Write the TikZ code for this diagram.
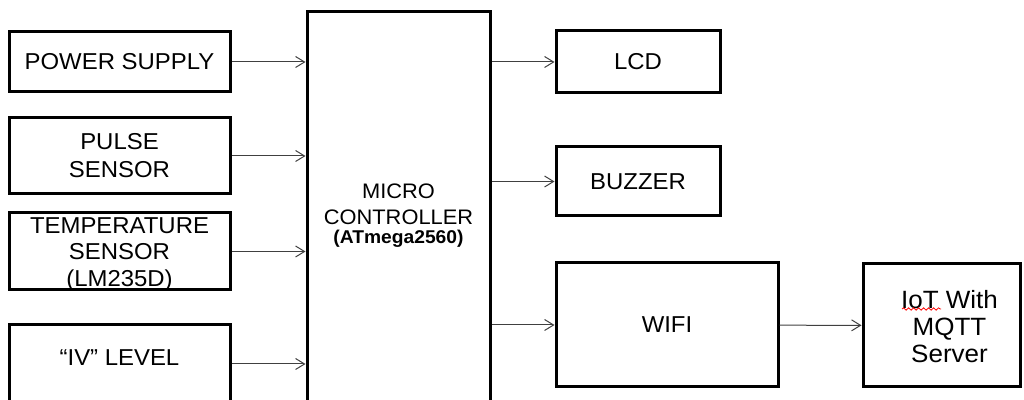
\documentclass[tikz,border=0pt]{standalone}
\usepackage{fontspec}
\setmainfont{Liberation Sans}[FakeStretch=1.04]
\usetikzlibrary{arrows.meta, positioning, decorations.pathmorphing}

\begin{document}
\begin{tikzpicture}[
    x=0.5pt, y=-0.5pt,
    font=\fontsize{11.5}{14}\selectfont,
    block/.style={rectangle, draw, line width=1.5pt, align=center, inner sep=0pt},
    arrow/.style={-{Straight Barb[length=4.5pt, width=5.5pt]}, line width=0.5pt, black!75}
]
\useasboundingbox (0,0) rectangle (1024,400);
\clip (0,0) rectangle (1024,400);

% Input Blocks
\node[block, minimum width=110.5pt, minimum height=30pt] (power) at (119.5,62) {POWER SUPPLY};
\node[block, minimum width=110.5pt, minimum height=38pt] (pulse) at (119.5,156) {PULSE\\SENSOR};
\node[block, minimum width=110.5pt, minimum height=38.5pt,
    label={[name=templabel, align=center, inner sep=0pt, yshift=-1.3pt, font=\fontsize{11.5}{13.25}\selectfont]center:TEMPERATURE\\SENSOR\\(LM235D)}]
    (temp) at (119.5,251.5) {};
\node[block, minimum width=110.5pt, minimum height=39pt, text height=8.4pt, text depth=7pt] (iv) at (119.5,364) {“IV” LEVEL};

% Controller
\node[block, minimum width=91.5pt, minimum height=200pt, font=\fontsize{10.5}{13}\selectfont] (mc) at (398.5,212)
    {\rule{0pt}{10.5pt}MICRO\\CONTROLLER\\[-3.5pt]{\fontsize{9.25}{11}\selectfont\bfseries (ATmega2560)}};

% Output Blocks
\node[block, minimum width=82pt, minimum height=31pt] (lcd) at (638,62) {LCD};
\node[block, minimum width=82pt, minimum height=34.5pt] (buzzer) at (638,181.5) {BUZZER};
\node[block, minimum width=111pt, minimum height=62pt] (wifi) at (667,325) {WIFI};
\node[block, minimum width=78.5pt, minimum height=61.5pt,
    label={[name=iotlabel, align=center, inner sep=0pt, xshift=4pt, yshift=-0.5pt, font=\fontsize{12.5}{13.5}\selectfont]center:IoT With\\MQTT\\Server}]
    (iot) at (941.5,325.5) {};

% Arrows
\draw[arrow] (power) -- (power -| mc.west);
\draw[arrow] (pulse) -- (pulse -| mc.west);
\draw[arrow] (temp) -- (temp -| mc.west);
\draw[arrow] (iv) -- (iv -| mc.west);
\draw[arrow] (mc.east |- lcd) -- (lcd);
\draw[arrow] (mc.east |- buzzer) -- (buzzer);
\draw[arrow] (mc.east |- wifi) -- (wifi);
\draw[arrow] (wifi) -- (iot);

% Spell check mark
\draw[red, line width=0.4pt, decorate, decoration={snake, amplitude=0.6pt, segment length=2.5pt}] (902,309) -- (941,309);

\end{tikzpicture}
\end{document}
